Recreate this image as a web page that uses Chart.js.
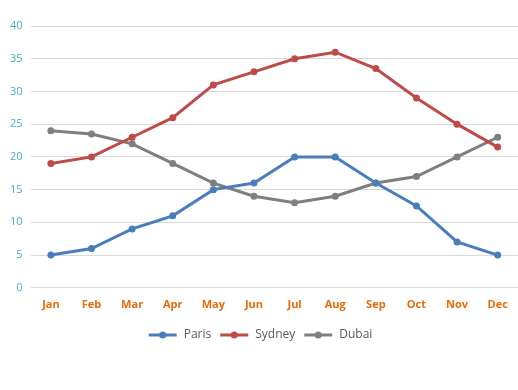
<!DOCTYPE html>
<html>
<head>
<meta charset="utf-8">
<script src="https://cdn.jsdelivr.net/npm/chart.js@4/dist/chart.umd.min.js"></script>
<style>
  html, body { margin: 0; padding: 0; background: #fff; }
  #wrap { width: 518px; height: 390px; }
</style>
</head>
<body>
<div id="wrap"><canvas id="temps"></canvas></div>
<script>
// ---------------------- DATA -------------------------
const months = ['Jan','Feb','Mar','Apr','May','Jun','Jul','Aug','Sep','Oct','Nov','Dec'];
const paris  = [5, 6, 9, 11, 15, 16, 20, 20, 16, 12.5, 7, 5];
const sydney = [19, 20, 23, 26, 31, 33, 35, 36, 33.5, 29, 25, 21.5];
const dubai  = [24, 23.5, 22, 19, 16, 14, 13, 14, 16, 17, 20, 23];

// legend swatch: short line with a dot in the middle
function swatch(color) {
      const c = document.createElement('canvas');
      c.width = 30; c.height = 10;
      const g = c.getContext('2d');
      g.strokeStyle = color; g.lineWidth = 3;
      g.beginPath(); g.moveTo(1, 5); g.lineTo(29, 5); g.stroke();
      g.fillStyle = color;
      g.beginPath(); g.arc(15, 5, 3.5, 0, Math.PI * 2); g.fill();
      return c;
}

function series(label, data, color) {
      return {
            label: label,
            data: data,
            borderColor: color,
            backgroundColor: color,
            borderWidth: 3,
            pointRadius: 3.5,
            pointBorderWidth: 0,
            pointBackgroundColor: color,
            tension: 0,
            fill: false,
            clip: 6
      };
}

const ctx = document.getElementById('temps').getContext('2d');
new Chart(ctx, {
      type: 'line',
      data: {
            labels: months,
            datasets: [
                  series('Paris', paris, '#4a7ebb'),
                  series('Sydney', sydney, '#be4b48'),
                  series('Dubai', dubai, '#7f7f7f')
            ]
      },
      options: {
            responsive: true,
            maintainAspectRatio: false,
            animation: false,
            layout: { autoPadding: false, padding: { left: 2, right: 0, top: 26, bottom: 39 } },
            scales: {
                  y: {
                        min: 0,
                        max: 40,
                        ticks: { stepSize: 5, color: '#4bacc6', padding: 8, font: { family: 'Open Sans', size: 11 } },
                        grid: { color: '#d9d9d9', drawTicks: false },
                        border: { display: false }
                  },
                  x: {
                        offset: true,
                        ticks: { color: '#e46c0a', padding: 10, font: { family: 'Open Sans', size: 11, weight: 'bold' } },
                        grid: { display: false, drawTicks: false },
                        border: { display: false },
                        // gridlines run to the right edge in the original
                        afterFit: function (scale) {
                              scale.paddingLeft = 0;
                              scale.paddingRight = 0;
                        }
                  }
            },
            plugins: {
                  legend: {
                        position: 'bottom',
                        labels: {
                              usePointStyle: true,
                              pointStyleWidth: 30,
                              padding: 8,
                              color: '#595959',
                              font: { family: 'Open Sans', size: 12 },
                              generateLabels: function (chart) {
                                    const base = Chart.defaults.plugins.legend.labels.generateLabels(chart);
                                    return base.map(item => {
                                          item.pointStyle = swatch(chart.data.datasets[item.datasetIndex].borderColor);
                                          return item;
                                    });
                              }
                        }
                  },
                  tooltip: { enabled: false }
            }
      }
});
</script>
</body>
</html>
